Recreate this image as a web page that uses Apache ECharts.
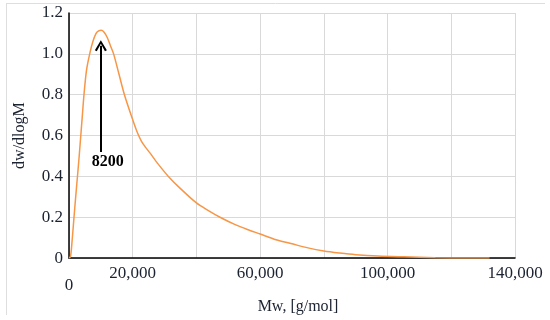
<!DOCTYPE html>
<html>
<head>
<meta charset="utf-8">
<script src="https://cdn.jsdelivr.net/npm/echarts/dist/echarts.min.js"></script>
<style>html,body{margin:0;padding:0;background:#fff}#c{width:550px;height:320px}</style>
</head>
<body>
<div id="c"></div>
<script>
// Molecular weight (g/mol)
var mw = [0, 500, 1000, 1570, 2100, 2600, 3100, 3700, 4200, 4700, 5500, 6500, 7500, 8500, 9300, 10100, 10900, 12000, 13000, 14000, 15700, 17400, 19500, 21200, 23000, 25400, 28000, 31200, 35000, 40000, 43500, 47400, 52000, 56000, 60000, 65000, 70000, 75000, 80000, 85000, 90000, 97000, 105000, 115000, 125000, 132000];
// dw/dlogM
var dw = [0, 0.01, 0.09, 0.2, 0.3, 0.39, 0.48, 0.6, 0.7, 0.8, 0.92, 1.0, 1.06, 1.1, 1.112, 1.115, 1.108, 1.08, 1.04, 1.0, 0.9, 0.8, 0.7, 0.625, 0.565, 0.515, 0.46, 0.4, 0.34, 0.27, 0.235, 0.2, 0.165, 0.14, 0.118, 0.09, 0.07, 0.05, 0.035, 0.025, 0.017, 0.01, 0.006, 0.002, 0.0005, 0];
var xTicks = [0, 20000, 60000, 100000, 140000];
var yTicks = [0, 0.2, 0.4, 0.6, 0.8, 1.0, 1.2];
var peakLabel = '8200';
var arrowX = 10000, arrowFrom = 0.52, arrowTo = 1.04;

var font = 'Liberation Serif';
var txt = '#1b2230';
var chart = echarts.init(document.getElementById('c'));
var pts = mw.map(function (x, i) { return [x, dw[i]]; });
chart.setOption({
  animation: false,
  grid: { left: 69, right: 35, top: 13, bottom: 59 },
  graphic: [
    { type: 'line', shape: { x1: 6, y1: 3.5, x2: 545, y2: 3.5 }, style: { stroke: '#dedede', lineWidth: 1 } },
    { type: 'line', shape: { x1: 6.5, y1: 3, x2: 6.5, y2: 315 }, style: { stroke: '#dedede', lineWidth: 1 } }
  ],
  xAxis: {
    type: 'value', min: 0, max: 140000, interval: 20000,
    name: 'Mw, [g/mol]', nameLocation: 'middle', nameGap: 35,
    nameTextStyle: { fontFamily: font, fontSize: 16, color: txt, padding: [0, 0, 0, 12] },
    axisLine: { show: true, lineStyle: { color: '#000', width: 1.5 } },
    axisTick: { show: false },
    splitLine: { show: true, lineStyle: { color: '#d9d9d9', width: 1 } },
    axisLabel: {
      margin: 7, fontFamily: font, fontSize: 17, color: txt,
      formatter: function (v) {
        if (xTicks.indexOf(v) < 0) return '';
        if (v === 0) return '{z|0}';
        return v.toLocaleString('en-US');
      },
      rich: { z: { fontFamily: font, fontSize: 17, color: txt, padding: [12, 0, 0, 0] } }
    }
  },
  yAxis: {
    type: 'value', min: 0, max: 1.2, interval: 0.2,
    name: 'dw/dlogM', nameLocation: 'middle', nameGap: 41,
    nameTextStyle: { fontFamily: font, fontSize: 16, color: txt },
    axisLine: { show: true, lineStyle: { color: '#000', width: 1.5 } },
    axisTick: { show: false },
    splitLine: { show: true, lineStyle: { color: '#d9d9d9', width: 1 } },
    axisLabel: {
      margin: 6, fontFamily: font, fontSize: 17, color: txt,
      formatter: function (v) {
        var r = Math.round(v * 10) / 10;
        return r === 0 ? '0' : r.toFixed(1);
      }
    }
  },
  series: [{
    type: 'line', data: pts, showSymbol: false, smooth: 0.3,
    lineStyle: { color: '#f79646', width: 1.5 },
    markLine: {
      silent: true, animation: false,
      lineStyle: { color: '#000', width: 2, type: 'solid' },
      label: {
        show: true, position: 'start', distance: 2, formatter: peakLabel,
        fontFamily: font, fontSize: 16, fontWeight: 'bold', color: '#000',
        padding: [0, 0, 0, 14]
      },
      data: [[
        { coord: [arrowX, arrowFrom], symbol: 'none' },
        { coord: [arrowX, arrowTo], symbol: 'path://M0,10 L5,0 L10,10 L8.4,11 L5,3.6 L1.6,11 Z', symbolSize: [12, 11] }
      ]]
    }
  }]
});
</script>
</body>
</html>
